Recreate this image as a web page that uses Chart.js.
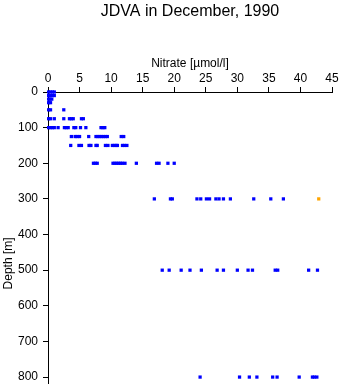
<!DOCTYPE html>
<html>
<head>
<meta charset="utf-8">
<script src="https://cdn.jsdelivr.net/npm/chart.js@4.4.0/dist/chart.umd.min.js"></script>
<style>
  html, body { margin: 0; padding: 0; background: #fff; overflow: hidden; width: 341px; height: 384px; }
  #wrap { width: 341px; height: 447px; }
</style>
</head>
<body>
<div id="wrap"><canvas id="chart" width="341" height="447"></canvas></div>
<script>
// depth levels [m] and nitrate values [µmol/l] measured at each level
const depthLevels = [0, 10, 20, 30, 50, 75, 100, 125, 150, 200, 300, 500, 800];
const nitrateByLevel = [
    [0.1, 0.4, 0.7, 1.0],
    [0.1, 0.4, 0.7, 1.0],
    [0.1, 0.3, 0.6],
    [0.1, 0.4],
    [0.1, 0.4, 2.5],
    [0.1, 0.4, 1.0, 2.5, 3.4, 3.7, 4.0, 5.3, 5.6],
    [0.1, 0.4, 0.7, 1.0, 1.6, 2.6, 2.9, 3.2, 4.1, 4.4, 5.15, 6.0, 8.4, 8.7, 9.0],
    [3.7, 4.3, 4.6, 5.0, 6.45, 7.6, 7.9, 8.2, 8.5, 8.8, 9.1, 9.4, 11.6, 12.0],
    [3.6, 4.9, 5.3, 6.5, 6.8, 7.6, 7.8, 9.1, 9.5, 10.2, 10.5, 10.8, 11.0, 11.8, 12.1, 12.5],
    [7.2, 7.5, 7.8, 10.3, 10.6, 10.9, 11.2, 11.5, 11.8, 12.2, 14.0, 17.2, 17.6, 19.0, 20.0],
    [16.85, 19.4, 19.7, 23.6, 24.2, 25.1, 25.6, 26.6, 27.1, 27.8, 28.9, 32.6, 35.3, 37.3],
    [18.1, 19.2, 21.1, 22.5, 24.3, 26.8, 27.8, 30.0, 31.7, 32.4, 36.0, 36.4, 41.3, 42.7],
    [24.1, 30.35, 31.9, 33.1, 35.6, 36.3, 39.8, 41.9, 42.2, 42.6]
];
// flagged samples (orange)
const flaggedDepths = [300];
const flaggedNitrate = [42.9];

const xTicks = [0, 5, 10, 15, 20, 25, 30, 35, 40, 45];
const yTicks = [0, 100, 200, 300, 400, 500, 600, 700, 800];

const FONT = "'Liberation Sans', Arial, sans-serif";

const mainPoints = [];
depthLevels.forEach((d, i) => {
    nitrateByLevel[i].forEach(v => mainPoints.push({ x: v, y: d }));
});
const flaggedPoints = flaggedDepths.map((d, i) => ({ x: flaggedNitrate[i], y: d }));

const ctx = document.getElementById("chart").getContext("2d");
new Chart(ctx, {
    type: 'scatter',
    data: {
        datasets: [
            { label: 'Nitrate', data: mainPoints, pointStyle: 'rect', pointRadius: 2.3,
              backgroundColor: '#0000ff', borderColor: '#0000ff', borderWidth: 0, clip: false },
            { label: 'Flagged', data: flaggedPoints, pointStyle: 'rect', pointRadius: 2.3,
              backgroundColor: '#ffa500', borderColor: '#ffa500', borderWidth: 0, clip: false }
        ]
    },
    options: {
        responsive: false,
        animation: false,
        layout: { padding: { left: 0, right: 9, top: 0, bottom: 0 } },
        plugins: {
            legend: { display: false },
            tooltip: { enabled: false },
            title: {
                display: true,
                text: 'JDVA in December, 1990',
                fullSize: false,
                color: '#000',
                font: { family: FONT, size: 16, weight: 'normal' },
                padding: { top: 2, bottom: 30.6 }
            }
        },
        scales: {
            x: {
                type: 'linear',
                position: 'top',
                min: 0,
                max: 45,
                afterBuildTicks: s => { s.ticks = xTicks.map(v => ({ value: v })); },
                afterFit: s => { s.height = 40.2; },
                grid: { drawOnChartArea: false, drawTicks: true, tickLength: 5, color: '#000' },
                border: { display: true, color: '#000', width: 1 },
                ticks: { color: '#000', padding: 1, maxRotation: 0, font: { family: FONT, size: 12 } },
                title: { display: true, text: 'Nitrate [µmol/l]', color: '#000',
                         font: { family: FONT, size: 12 }, padding: { top: 5, bottom: 0 } }
            },
            y: {
                type: 'linear',
                reverse: true,
                min: 0,
                max: 962,
                afterBuildTicks: s => { s.ticks = yTicks.map(v => ({ value: v })); },
                afterFit: s => { s.width = 48; },
                grid: { drawOnChartArea: false, drawTicks: true, tickLength: 5, color: '#000' },
                border: { display: true, color: '#000', width: 1 },
                ticks: { color: '#000', padding: 5, font: { family: FONT, size: 12 } },
                title: { display: true, text: 'Depth [m]', color: '#000',
                         font: { family: FONT, size: 12 }, padding: { top: 1, bottom: 0 } }
            }
        }
    }
});
</script>
</body>
</html>
